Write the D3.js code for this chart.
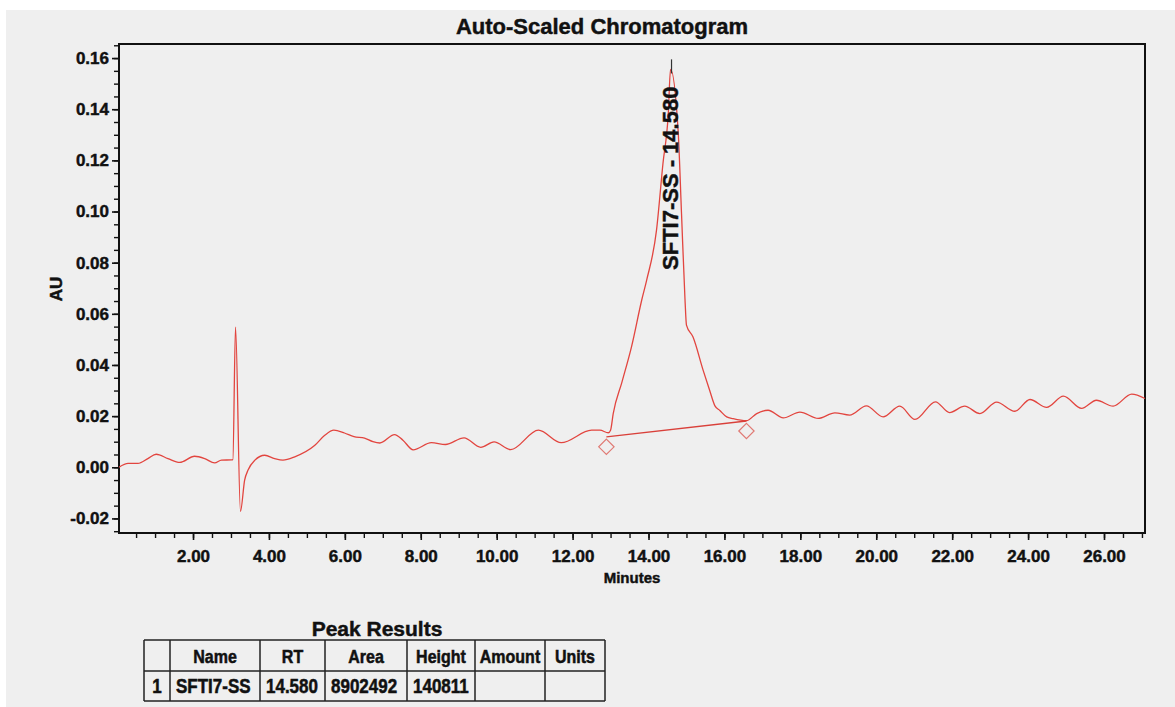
<!DOCTYPE html>
<html><head><meta charset="utf-8">
<script src="https://cdn.jsdelivr.net/npm/d3@7"></script>
<style>
html,body{margin:0;padding:0;background:#fff;}
svg{display:block;}
text{font-family:"Liberation Sans",Arial,Helvetica,sans-serif;font-weight:bold;fill:#111;stroke:#111;stroke-width:0.45px;}
</style></head><body>
<svg id="chart" width="1175" height="707"></svg>
<script>
// Detector trace: retention time (min) and absorbance (AU)
const times = [0.05,0.29,0.55,0.81,1.03,1.34,1.65,2.04,2.31,2.57,2.75,3.01,3.05,3.12,3.25,3.36,3.45,3.63,3.89,4.15,4.37,4.68,5.21,5.47,5.71,5.99,6.24,6.52,6.74,6.92,7.31,7.53,7.80,8.28,8.65,9.14,9.58,9.93,10.37,11.10,11.70,12.50,12.72,12.94,13.00,13.07,13.30,13.55,13.82,13.95,14.21,14.38,14.52,14.78,14.87,14.96,15.00,15.17,15.44,15.61,15.75,15.88,16.06,16.23,16.58,16.85,17.15,17.55,17.99,18.47,18.91,19.30,19.74,20.18,20.62,21.02,21.56,21.93,22.33,22.73,23.17,23.65,24.05,24.49,24.93,25.41,25.80,26.24,26.73,27.08];
const absorbance = [0.0000,0.0015,0.0015,0.0034,0.0051,0.0034,0.0019,0.0043,0.0034,0.0017,0.0028,0.0029,0.0030,0.0548,-0.0172,-0.0050,-0.0011,0.0028,0.0047,0.0034,0.0028,0.0041,0.0086,0.0125,0.0145,0.0134,0.0120,0.0114,0.0100,0.0095,0.0128,0.0106,0.0068,0.0096,0.0089,0.0115,0.0078,0.0099,0.0069,0.0145,0.0096,0.0145,0.0145,0.0135,0.0145,0.0210,0.0333,0.0470,0.0653,0.0731,0.0926,0.1187,0.1380,0.1317,0.0990,0.0660,0.0556,0.0510,0.0379,0.0301,0.0240,0.0222,0.0197,0.0190,0.0182,0.0210,0.0223,0.0193,0.0216,0.0191,0.0213,0.0204,0.0240,0.0197,0.0239,0.0187,0.0256,0.0214,0.0239,0.0210,0.0255,0.0219,0.0265,0.0234,0.0278,0.0230,0.0262,0.0239,0.0286,0.0269];

// Integrated peak
const peakName = "SFTI7-SS";
const peakRT = 14.580;
const peakArea = 8902492;
const peakHeight = 140811;        // µV above the drawn baseline
const integStart = [12.89, 0.0119]; // [min, AU]
const integEnd = [16.58, 0.0181];

// Axis ticks
const xMajorTicks = [2,4,6,8,10,12,14,16,18,20,22,24,26];
const yMajorTicks = [-0.02,0.00,0.02,0.04,0.06,0.08,0.10,0.12,0.14,0.16];

// Results table
const tableHeaders = ["", "Name", "RT", "Area", "Height", "Amount", "Units"];
const tableRow = ["1", peakName, peakRT.toFixed(3), String(peakArea), String(peakHeight), "", ""];

const svg = d3.select("#chart");
const W = 1175, H = 707;
const plot = {left: 119, right: 1145, top: 44, bottom: 533};
const fmt2 = v => v.toFixed(2);

svg.append("rect").attr("x", 6).attr("y", 10).attr("width", W - 6).attr("height", H - 10).attr("fill", "#efefef");

const x = d3.scaleLinear().domain([0.05, 27.08]).range([plot.left, plot.right]);
const y = d3.scaleLinear().domain([-0.0257, 0.1655]).range([plot.bottom, plot.top]);

// Apex of the peak: baseline under the apex plus the reported height
const baseAtRT = integStart[1] + (peakRT - integStart[0]) / (integEnd[0] - integStart[0]) * (integEnd[1] - integStart[1]);
const apex = baseAtRT + peakHeight / 1e6;
const pts = times.map((t, i) => [t, absorbance[i]]);
const insertAt = pts.findIndex(p => p[0] > peakRT);
pts.splice(insertAt, 0, [peakRT, apex]);

// Title
svg.append("text").attr("x", 602).attr("y", 34).attr("text-anchor", "middle")
  .style("font-size", "22px").text("Auto-Scaled Chromatogram");

// Minor ticks
const yMinor = d3.range(-0.025, 0.1651, 0.005).map(v => +v.toFixed(3));
svg.append("g").attr("transform", `translate(${plot.left},0)`)
  .call(d3.axisLeft(y).tickValues(yMinor).tickSize(5).tickFormat(""))
  .call(g => g.select(".domain").remove())
  .selectAll("line").attr("stroke", "#111").attr("stroke-width", 1.4);
const xMinor = d3.range(0.5, 27.01, 0.5);
svg.append("g").attr("transform", `translate(0,${plot.bottom})`)
  .call(d3.axisBottom(x).tickValues(xMinor).tickSize(5).tickFormat(""))
  .call(g => g.select(".domain").remove())
  .selectAll("line").attr("stroke", "#111").attr("stroke-width", 1.4);

// Major ticks with labels
const yAxis = svg.append("g").attr("transform", `translate(${plot.left},0)`)
  .call(d3.axisLeft(y).tickValues(yMajorTicks).tickSize(7).tickPadding(3).tickFormat(fmt2));
yAxis.select(".domain").remove();
yAxis.selectAll("line").attr("stroke", "#111").attr("stroke-width", 1.6);
yAxis.selectAll("text").style("font-size", "17px").attr("fill", "#111").attr("font-family", null);

const xAxis = svg.append("g").attr("transform", `translate(0,${plot.bottom})`)
  .call(d3.axisBottom(x).tickValues(xMajorTicks).tickSize(7).tickPadding(10).tickFormat(fmt2));
xAxis.select(".domain").remove();
xAxis.selectAll("line").attr("stroke", "#111").attr("stroke-width", 1.6);
xAxis.selectAll("text").style("font-size", "17px").attr("fill", "#111").attr("font-family", null);

// Frame
svg.append("rect").attr("x", plot.left).attr("y", plot.top)
  .attr("width", plot.right - plot.left).attr("height", plot.bottom - plot.top)
  .attr("fill", "none").attr("stroke", "#111").attr("stroke-width", 2);

// Axis titles
svg.append("text").attr("x", 632).attr("y", 583).attr("text-anchor", "middle")
  .style("font-size", "15px").text("Minutes");
svg.append("text").attr("transform", "translate(62,289) rotate(-90)").attr("text-anchor", "middle")
  .style("font-size", "17px").text("AU");

// Trace
const line = d3.line().x(d => x(d[0])).y(d => y(d[1])).curve(d3.curveMonotoneX);
svg.append("path").datum(pts).attr("d", line)
  .attr("fill", "none").attr("stroke", "#e2453f").attr("stroke-width", 1.3);

// Integration baseline and markers
svg.append("line").attr("x1", x(integStart[0])).attr("y1", y(integStart[1]))
  .attr("x2", x(integEnd[0])).attr("y2", y(integEnd[1]))
  .attr("stroke", "#d9403a").attr("stroke-width", 1.4);
svg.selectAll("path.marker").data([integStart, integEnd]).enter().append("path")
  .attr("class", "marker")
  .attr("transform", d => `translate(${x(d[0])},${y(d[1]) + 10})`)
  .attr("d", d3.symbol(d3.symbolDiamond2, 150))
  .attr("fill", "none").attr("stroke", "#e07a74").attr("stroke-width", 1.2);

// Peak label with leader
svg.append("line").attr("x1", x(peakRT) + 1).attr("x2", x(peakRT) + 1)
  .attr("y1", y(0.1595)).attr("y2", y(apex) + 4)
  .attr("stroke", "#333").attr("stroke-width", 1.2);
svg.append("text").attr("transform", `translate(${x(peakRT) + 7.5},270) rotate(-90)`)
  .attr("text-anchor", "start").style("font-size", "22px")
  .text(`${peakName} - ${peakRT.toFixed(3)}`);

// Peak results table
svg.append("text").attr("x", 377).attr("y", 636).attr("text-anchor", "middle")
  .style("font-size", "21px").text("Peak Results");
const colEdges = [144, 170, 260, 325, 407, 475, 545, 605];
const rowEdges = [640, 671, 701];
const tbl = svg.append("g");
colEdges.forEach(cx => tbl.append("line").attr("x1", cx).attr("x2", cx)
  .attr("y1", rowEdges[0]).attr("y2", rowEdges[2]).attr("stroke", "#222").attr("stroke-width", 1.5));
rowEdges.forEach(ry => tbl.append("line").attr("x1", colEdges[0]).attr("x2", colEdges[7])
  .attr("y1", ry).attr("y2", ry).attr("stroke", "#222").attr("stroke-width", 1.5));
tableHeaders.forEach((h, i) => {
  const cx = (colEdges[i] + colEdges[i + 1]) / 2;
  tbl.append("text").attr("transform", `translate(${cx},663) scale(1,1.15)`)
    .attr("text-anchor", "middle").style("font-size", "16px").text(h);
});
tableRow.forEach((v, i) => {
  const left = i === 0;
  const tx = left ? (colEdges[0] + colEdges[1]) / 2 : colEdges[i] + 6;
  tbl.append("text").attr("transform", `translate(${tx},693) scale(1,1.15)`)
    .attr("text-anchor", left ? "middle" : "start").style("font-size", "17px").text(v);
});
</script>
</body></html>
